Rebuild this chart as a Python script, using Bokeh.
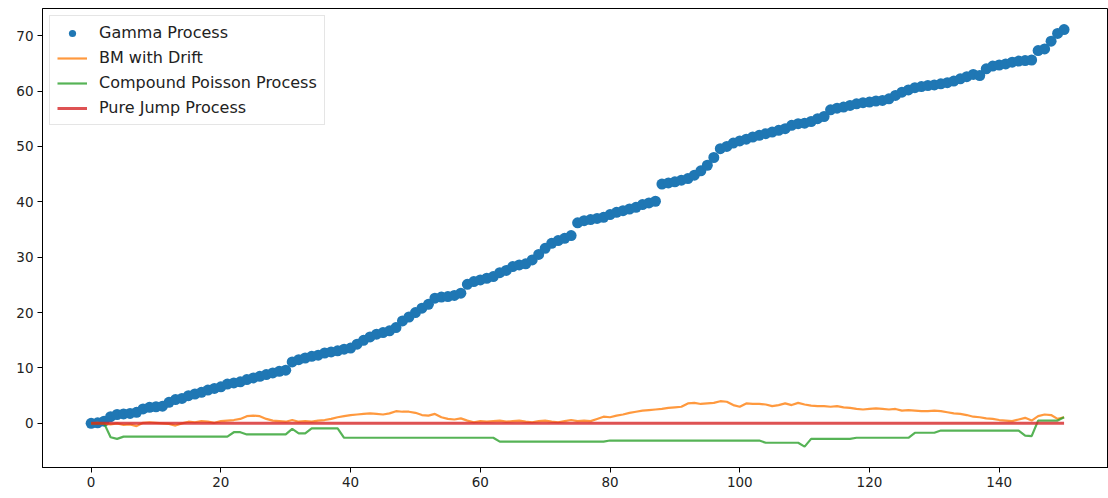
from bokeh.plotting import figure
from bokeh.models import Range1d, Legend, LegendItem, FixedTicker
from bokeh.embed import file_html
from bokeh.resources import INLINE

# time steps 0..150
t = list(range(151))

gamma = [
    0.0, 0.1, 0.4, 1.2, 1.6, 1.7, 1.8, 2.0, 2.6, 2.9,
    3.0, 3.1, 3.8, 4.3, 4.5, 5.0, 5.3, 5.6, 6.0, 6.3,
    6.6, 7.1, 7.3, 7.5, 7.9, 8.2, 8.5, 8.8, 9.1, 9.4,
    9.6, 11.1, 11.5, 11.8, 12.1, 12.3, 12.7, 12.9, 13.1, 13.4,
    13.6, 14.3, 15.0, 15.6, 16.1, 16.4, 16.7, 17.3, 18.5, 19.2,
    20.0, 20.8, 21.5, 22.6, 22.8, 22.9, 23.1, 23.5, 25.1, 25.6,
    25.9, 26.2, 26.5, 27.2, 27.6, 28.3, 28.6, 28.8, 29.5, 30.5,
    31.6, 32.5, 33.0, 33.4, 33.9, 36.2, 36.6, 36.8, 37.0, 37.2,
    37.7, 38.1, 38.4, 38.7, 39.0, 39.5, 39.8, 40.1, 43.2, 43.4,
    43.6, 43.9, 44.2, 44.8, 45.6, 46.6, 48.0, 49.6, 50.0, 50.6,
    51.0, 51.3, 51.7, 52.0, 52.3, 52.6, 52.9, 53.2, 53.8, 54.1,
    54.2, 54.5, 55.0, 55.4, 56.6, 56.9, 57.1, 57.4, 57.7, 57.9,
    58.0, 58.2, 58.3, 58.6, 59.2, 59.8, 60.2, 60.6, 60.8, 61.0,
    61.1, 61.3, 61.5, 61.8, 62.2, 62.6, 63.0, 62.8, 64.0, 64.5,
    64.7, 64.9, 65.2, 65.4, 65.5, 65.6, 67.3, 67.6, 69.0, 70.4,
    71.1,
]

bm_drift = [
    0.0, 0.1, -0.1, -0.2, 0.0, -0.3, -0.2, -0.5, 0.1, 0.2,
    0.1, 0.0, -0.1, -0.4, 0.0, 0.3, 0.2, 0.4, 0.3, 0.1,
    0.4, 0.5, 0.6, 0.8, 1.3, 1.4, 1.3, 0.8, 0.5, 0.4,
    0.3, 0.6, 0.3, 0.4, 0.3, 0.5, 0.6, 0.8, 1.1, 1.3,
    1.5, 1.6, 1.7, 1.8, 1.7, 1.6, 1.8, 2.2, 2.1, 2.1,
    1.9, 1.5, 1.4, 1.7, 1.1, 0.8, 0.7, 0.9, 0.5, 0.2,
    0.4, 0.3, 0.4, 0.5, 0.3, 0.4, 0.5, 0.3, 0.2, 0.4,
    0.5, 0.3, 0.2, 0.4, 0.6, 0.4, 0.5, 0.4, 0.8, 1.2,
    1.1, 1.4, 1.6, 1.9, 2.1, 2.3, 2.4, 2.5, 2.6, 2.8,
    2.9, 3.0, 3.6, 3.7, 3.5, 3.6, 3.7, 4.0, 3.9, 3.3,
    3.0, 3.6, 3.5, 3.5, 3.4, 3.1, 3.3, 3.6, 3.3, 3.7,
    3.4, 3.2, 3.1, 3.1, 3.0, 3.1, 2.9, 2.8, 2.6, 2.5,
    2.6, 2.7, 2.6, 2.5, 2.6, 2.3, 2.4, 2.3, 2.2, 2.2,
    2.3, 2.2, 2.0, 1.8, 1.7, 1.5, 1.2, 1.1, 0.9, 0.8,
    0.6, 0.5, 0.4, 0.7, 1.0, 0.5, 1.3, 1.6, 1.5, 0.8,
    1.1,
]

compound_poisson = [
    0.0, 0.0, 0.0, -2.5, -2.8, -2.4, -2.4, -2.4, -2.4, -2.4,
    -2.4, -2.4, -2.4, -2.4, -2.4, -2.4, -2.4, -2.4, -2.4, -2.4,
    -2.4, -2.4, -1.6, -1.6, -2.0, -2.0, -2.0, -2.0, -2.0, -2.0,
    -2.0, -1.0, -1.8, -1.8, -0.9, -0.9, -0.9, -0.9, -0.9, -2.6,
    -2.6, -2.6, -2.6, -2.6, -2.6, -2.6, -2.6, -2.6, -2.6, -2.6,
    -2.6, -2.6, -2.6, -2.6, -2.6, -2.6, -2.6, -2.6, -2.6, -2.6,
    -2.6, -2.6, -2.6, -3.3, -3.3, -3.3, -3.3, -3.3, -3.3, -3.3,
    -3.3, -3.3, -3.3, -3.3, -3.3, -3.3, -3.3, -3.3, -3.3, -3.3,
    -3.1, -3.1, -3.1, -3.1, -3.1, -3.1, -3.1, -3.1, -3.1, -3.1,
    -3.1, -3.1, -3.1, -3.1, -3.1, -3.1, -3.1, -3.1, -3.1, -3.1,
    -3.1, -3.1, -3.1, -3.1, -3.5, -3.5, -3.5, -3.5, -3.5, -3.5,
    -4.2, -2.8, -2.8, -2.8, -2.8, -2.8, -2.8, -2.8, -2.6, -2.6,
    -2.6, -2.6, -2.6, -2.6, -2.6, -2.6, -2.6, -1.7, -1.7, -1.7,
    -1.7, -1.3, -1.3, -1.3, -1.3, -1.3, -1.3, -1.3, -1.3, -1.3,
    -1.3, -1.3, -1.3, -1.3, -2.2, -2.3, 0.5, 0.5, 0.5, 0.5,
    1.1,
]

pure_jump = [0.0] * 151

labels = ["Gamma Process", "BM with Drift", "Compound Poisson Process", "Pure Jump Process"]
colors = ["#1f77b4", "#ff7f0e", "#2ca02c", "#d62728"]
x_ticks = [0, 20, 40, 60, 80, 100, 120, 140]
y_ticks = [0, 10, 20, 30, 40, 50, 60, 70]

FONT = "DejaVu Sans"

p = figure(width=1108, height=498, output_backend="svg", toolbar_location=None,
           x_range=Range1d(-7.5, 156.85), y_range=Range1d(-7.97, 74.9),
           min_border_left=42, min_border_right=0, min_border_top=8, min_border_bottom=31)
p.background_fill_color = "white"
p.border_fill_color = "white"
p.outline_line_color = "black"
p.outline_line_width = 1
p.xgrid.visible = False
p.ygrid.visible = False

r_g = p.scatter(t, gamma, size=11, color=colors[0], line_color=None)
r_b = p.line(t, bm_drift, line_color=colors[1], line_width=2.2, line_alpha=0.8)
r_c = p.line(t, compound_poisson, line_color=colors[2], line_width=2.2, line_alpha=0.8)
r_p = p.line(t, pure_jump, line_color=colors[3], line_width=3, line_alpha=0.8)

for ax, ticks in ((p.xaxis, x_ticks), (p.yaxis, y_ticks)):
    ax.ticker = FixedTicker(ticks=ticks)
    ax.minor_tick_line_color = None
    ax.major_tick_in = 0
    ax.major_tick_out = 5
    ax.major_tick_line_color = "black"
    ax.axis_line_color = "black"
    ax.major_label_text_font = FONT
    ax.major_label_text_font_size = "13.5px"
    ax.major_label_text_color = "#222222"
    ax.major_label_standoff = 4

legend = Legend(items=[LegendItem(label=lab, renderers=[r]) for lab, r in
                       zip(labels, [r_g, r_b, r_c, r_p])],
                location="top_left")
legend.margin = 7
legend.padding = 7
legend.spacing = 6
legend.glyph_width = 30
legend.glyph_height = 18
legend.label_height = 18
legend.label_standoff = 12
legend.label_text_font = FONT
legend.label_text_font_size = "16px"
legend.label_text_color = "#222222"
legend.border_line_color = "#cccccc"
legend.border_line_width = 1
legend.background_fill_alpha = 0.8
p.add_layout(legend)

open("out.html", "w").write(file_html(p, INLINE))
